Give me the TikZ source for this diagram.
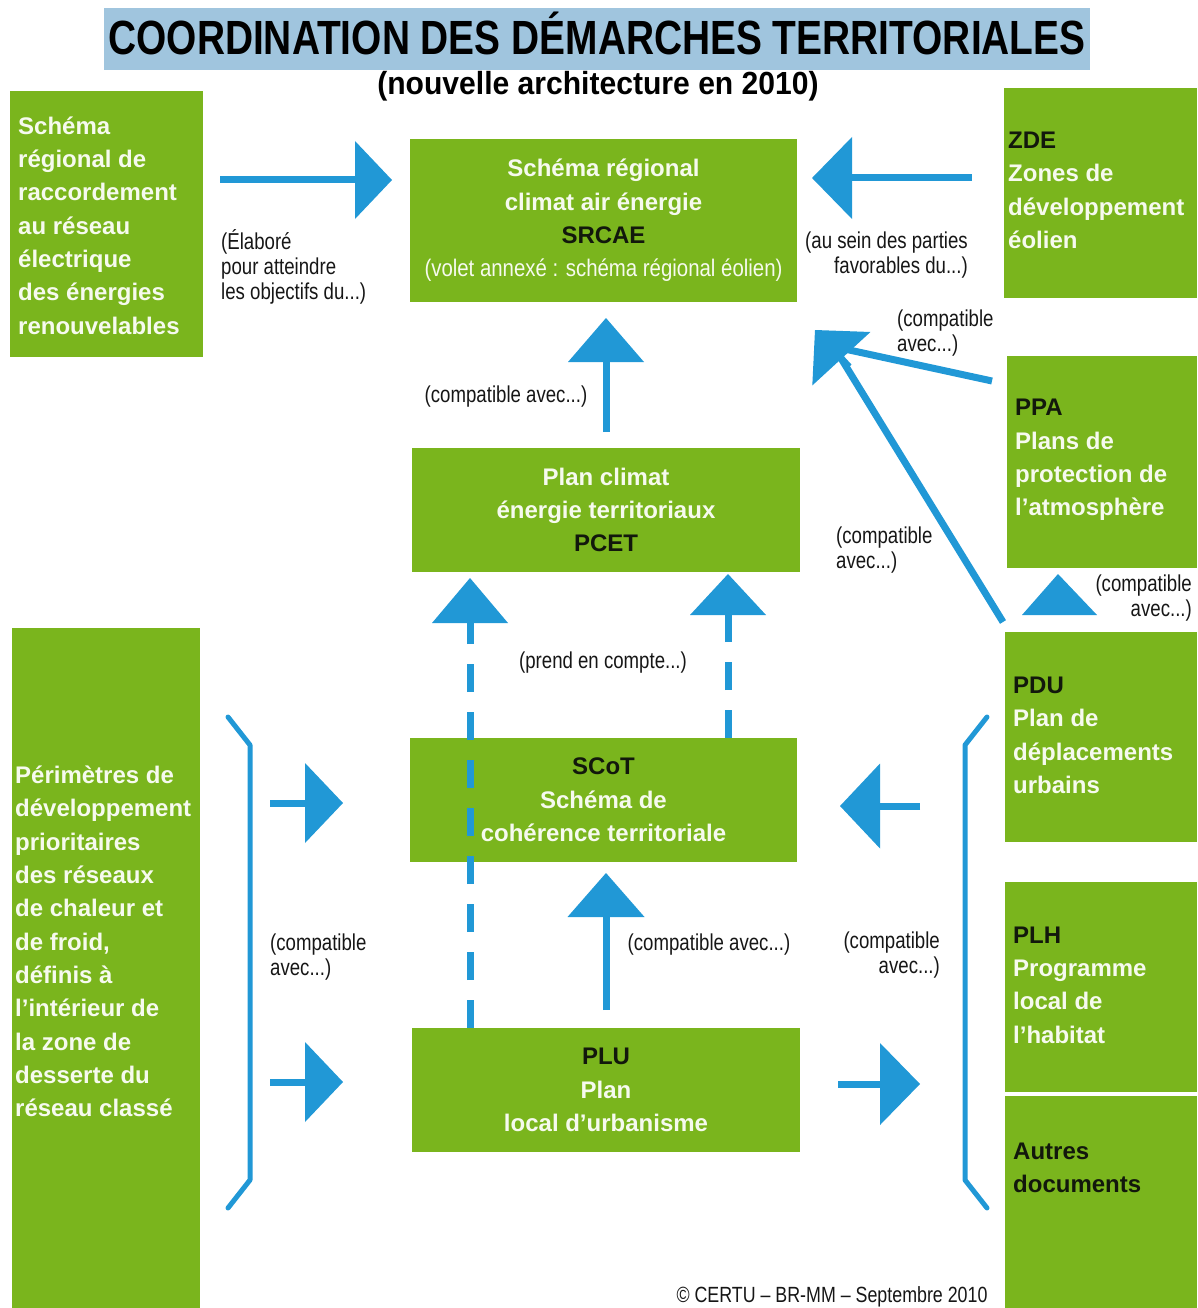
\documentclass[tikz,border=0pt]{standalone}
\usepackage{fontspec}
\setmainfont{Liberation Sans}
\newfontfamily\narrowfont{Liberation Sans}[FakeStretch=0.81]
\newfontfamily\boxnarrowfont{Liberation Sans}[FakeStretch=0.85]
\newfontfamily\titlefont{Liberation Sans}[FakeStretch=0.81]
\newfontfamily\subtitlefont{Liberation Sans}[FakeStretch=0.94]
\usetikzlibrary{arrows.meta,calc}
\definecolor{boxgreen}{RGB}{122,181,29}
\definecolor{arrowblue}{RGB}{33,152,214}
\definecolor{titlebar}{RGB}{160,197,222}
\definecolor{boxtext}{RGB}{246,250,238}
\definecolor{darktext}{RGB}{18,24,12}
\definecolor{labeltext}{RGB}{22,22,22}
\begin{document}
\begin{tikzpicture}[x=1pt,y=-1pt,
  box/.style={fill=boxgreen, draw=none, inner sep=0pt, outer sep=0pt, anchor=north west},
  ctext/.style={text=boxtext, font=\bfseries\fontsize{24}{33.3}\selectfont, align=center, inner sep=0pt},
  stext/.style={text=boxtext, font=\bfseries\fontsize{24}{33.3}\selectfont, align=left, anchor=west, inner sep=0pt},
  lbl/.style={font=\narrowfont\fontsize{23}{25}\selectfont, text=labeltext, inner sep=0pt},
  shaft/.style={draw=arrowblue, line width=7pt},
  headed/.style 2 args={shaft, -{Triangle[length=#1, width=#2, line width=0pt]}},
  bracket/.style={draw=arrowblue, line width=5pt, line join=round, line cap=round}
]
\useasboundingbox (0,0) rectangle (1197,1308);

% title
\node[box, fill=titlebar, minimum width=986pt, minimum height=62pt] (tbar) at (104,8) {};
\node[anchor=base, inner sep=0pt, font=\titlefont\bfseries\fontsize{48}{48}\selectfont, text=black] (title) at (597,55) {COORDINATION DES DÉMARCHES TERRITORIALES};
\node[anchor=base, inner sep=0pt, font=\subtitlefont\bfseries\fontsize{32}{32}\selectfont, text=black] (subtitle) at (598,95) {(nouvelle architecture en 2010)};

% boxes
\node[box, minimum width=193pt, minimum height=266pt] (srr) at (10,91) {};
\node[stext] (srrtext) at (18,225.5) {Schéma\\régional de\\raccordement\\au réseau\\électrique\\des énergies\\renouvelables};

\node[box, minimum width=387pt, minimum height=163pt] (srcae) at (410,139) {};
\node[ctext] (srcaetext) at (srcae.center) {Schéma régional\\climat air énergie\\\textcolor{darktext}{SRCAE}\\{\boxnarrowfont\mdseries (volet annexé : schéma régional éolien)}};

\node[box, minimum width=193pt, minimum height=210pt] (zde) at (1004,88) {};
\node[stext] (zdetext) at (1008,190.5) {\textcolor{darktext}{ZDE}\\Zones de\\développement\\éolien};

\node[box, minimum width=190pt, minimum height=212pt] (ppa) at (1007,356) {};
\node[stext] (ppatext) at (1015,460) {\textcolor{darktext}{PPA}\\Plans de\\protection de\\l’atmosphère};

\node[box, minimum width=388pt, minimum height=124pt] (pcet) at (412,448) {};
\node[ctext] (pcettext) at (pcet.center) {Plan climat\\énergie territoriaux\\\textcolor{darktext}{PCET}};

\node[box, minimum width=387pt, minimum height=124pt] (scot) at (410,738) {};
\node[ctext] (scottext) at (scot.center) {\textcolor{darktext}{SCoT}\\Schéma de\\cohérence territoriale};

\node[box, minimum width=388pt, minimum height=124pt] (plu) at (412,1028) {};
\node[ctext] (plutext) at (plu.center) {\textcolor{darktext}{PLU}\\Plan\\local d’urbanisme};

\node[box, minimum width=188pt, minimum height=680pt] (peri) at (12,628) {};
\node[stext] (peritext) at (15,941.5) {Périmètres de\\développement\\prioritaires\\des réseaux\\de chaleur et\\de froid,\\définis à\\l’intérieur de\\la zone de\\desserte du\\réseau classé};

\node[box, minimum width=192pt, minimum height=210pt] (pdu) at (1005,632) {};
\node[stext] (pdutext) at (1013,735.5) {\textcolor{darktext}{PDU}\\Plan de\\déplacements\\urbains};

\node[box, minimum width=192pt, minimum height=210pt] (plh) at (1005,882) {};
\node[stext] (plhtext) at (1013,985) {\textcolor{darktext}{PLH}\\Programme\\local de\\l’habitat};

\node[box, minimum width=192pt, minimum height=212pt] (autres) at (1005,1096) {};
\node[stext, text=darktext] (autrestext) at (1013,1167.5) {Autres\\documents};

% helper rows
\coordinate (rowA) at (0,180);
\coordinate (rowZ) at (0,178);
\coordinate (rowL1) at (0,803);
\coordinate (rowL2) at (0,1082);
\coordinate (rowR1) at (0,806);
\coordinate (rowR2) at (0,1084);
\coordinate (dashL) at (470,0);
\coordinate (dashR) at (728,0);

% top connectors
\draw[headed={37pt}{78pt}, shorten <=17pt, shorten >=18pt] (srr.east |- rowA) -- (srcae.west |- rowA);
\draw[headed={40pt}{82pt}, shorten <=32pt, shorten >=15pt] (zde.west |- rowZ) -- (srcae.east |- rowZ);
\draw[headed={44pt}{76pt}, shorten <=16pt, shorten >=16pt] (pcet.north) -- (pcet.north |- srcae.south);

% diagonal connectors to SRCAE
\coordinate (diagtip) at ($(srcae.south east)+(18,28)$);
\coordinate (diagbase) at ($(diagtip)+(34,37)$);
\coordinate (hubP) at ($(diagtip)+(25,18)$);
\coordinate (hubD) at ($(diagtip)+(24,25)$);
\draw[shaft] ($(ppa.north west)+(-15,25)$) -- (hubP);
\draw[shaft] ($(pdu.north west)+(-2,-10)$) -- (hubD);
\draw[headed={39pt}{79pt}] (diagbase) -- (diagtip);

% PDU -> PPA
\fill[arrowblue] ($(ppa.south)+(-80,47)$) -- ($(ppa.south)+(-44,6)$) -- ($(ppa.south)+(-5,47)$) -- cycle;

% dashed connectors to PCET
\draw[headed={45pt}{76pt}, dash pattern=on 28pt off 20pt, shorten >=6pt] (plu.north -| dashL) -- (pcet.south -| dashL);
\draw[headed={41pt}{76pt}, dash pattern=on 28pt off 20pt, shorten >=2pt] (scot.north -| dashR) -- (pcet.south -| dashR);

% PLU -> SCoT
\draw[headed={44pt}{77pt}, shorten <=18pt, shorten >=11pt] (plu.north) -- (plu.north |- scot.south);

% left group
\draw[headed={38pt}{80pt}, shorten <=70pt, shorten >=67pt] (peri.east |- rowL1) -- (scot.west |- rowL1);
\draw[headed={38pt}{80pt}, shorten <=70pt, shorten >=69pt] (peri.east |- rowL2) -- (plu.west |- rowL2);
\draw[bracket] (228,717) -- (250,745) -- (250,1180) -- (228,1208);

% right group
\draw[headed={40pt}{85pt}, shorten <=85pt, shorten >=43pt] (pdu.west |- rowR1) -- (scot.east |- rowR1);
\draw[headed={40pt}{82pt}, shorten <=38pt, shorten >=85pt] (plu.east |- rowR2) -- (plh.west |- rowR2);
\draw[bracket] (987,717) -- (965,745) -- (965,1180) -- (987,1208);

% labels
\node[lbl, anchor=west, align=left] (lElab) at (221,267) {(Élaboré\\pour atteindre\\les objectifs du...)};
\node[lbl, anchor=east, align=right] (lZde) at (968,255.5) {(au sein des parties\\favorables du...)};
\node[lbl, anchor=west, align=left] (lPpa) at (897,333.5) {(compatible\\avec...)};
\node[lbl] (lPcet) at (506,397) {(compatible avec...)};
\node[lbl, anchor=west, align=left] (lPdu) at (836,550.5) {(compatible\\avec...)};
\node[lbl, anchor=east, align=right] (lPduPpa) at (1192,598) {(compatible\\avec...)};
\node[lbl] (lPrend) at (603,663) {(prend en compte...)};
\node[lbl, anchor=west, align=left] (lLeft) at (270,957.5) {(compatible\\avec...)};
\node[lbl] (lPlu) at (709,945) {(compatible avec...)};
\node[lbl, anchor=east, align=right] (lRight) at (940,955.5) {(compatible\\avec...)};
\node[lbl, anchor=base, font=\narrowfont\fontsize{22}{24}\selectfont] (footer) at (832,1302) {© CERTU – BR-MM – Septembre 2010};
\end{tikzpicture}
\end{document}
